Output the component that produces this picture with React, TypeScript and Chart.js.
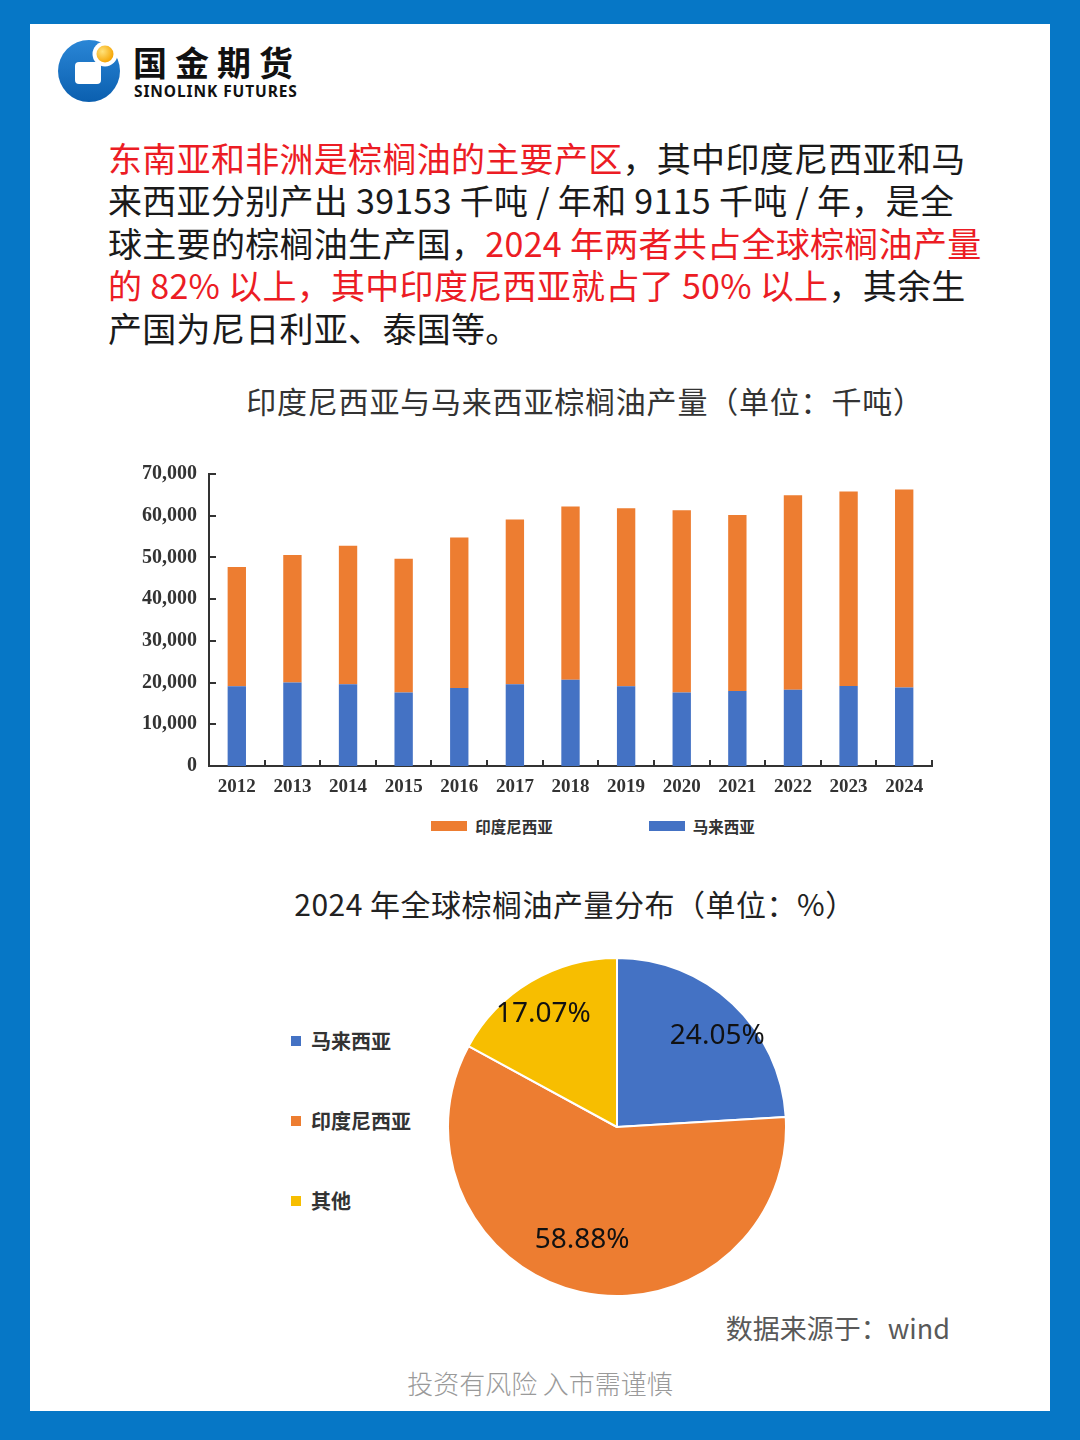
import React, { useEffect, useRef } from "react";
import { Chart, registerables } from "chart.js";

Chart.register(...registerables);

// ---------- data ----------
const years = ["2012", "2013", "2014", "2015", "2016", "2017", "2018", "2019", "2020", "2021", "2022", "2023", "2024"];
const malaysiaOutput = [19100, 20000, 19600, 17600, 18700, 19600, 20700, 19100, 17600, 18000, 18300, 19200, 18800];
const indonesiaOutput = [28600, 30600, 33200, 32100, 36100, 39500, 41500, 42700, 43700, 42200, 46600, 46600, 47500];
const yMin = 0;
const yMax = 70000;
const yStep = 10000;

const pieLabels = ["马来西亚", "印度尼西亚", "其他"];
const pieValues = [24.05, 58.88, 17.07];

const barTitle = "印度尼西亚与马来西亚棕榈油产量（单位：千吨）";
const pieTitle = "2024 年全球棕榈油产量分布（单位：%）";

// ---------- style ----------
const BLUE = "#4472C4";
const ORANGE = "#ED7D31";
const YELLOW = "#F7BE00";
const RED = "#EC1C24";
const FRAME = "#0677C6";
const CJK = "'Noto Sans CJK SC', 'Noto Sans', sans-serif";
const pieColors = [BLUE, ORANGE, YELLOW];
const pieLabelRadius = [0.8, 0.7, 0.8];
const pieLabelAngleShift = [0.08, 0.08, -0.04]; // radians, mimics Excel's best-fit placement

const inwardTicks = {
  id: "inwardTicks",
  afterDatasetsDraw(chart: any) {
    const { ctx, chartArea, scales } = chart;
    const x = scales.x;
    const y = scales.y;
    ctx.save();
    ctx.strokeStyle = "#333";
    ctx.lineWidth = 2;
    ctx.beginPath();
    y.ticks.forEach((_t: any, i: number) => {
      if (i === 0) return;
      const py = Math.round(y.getPixelForTick(i));
      ctx.moveTo(chartArea.left, py);
      ctx.lineTo(chartArea.left + 7, py);
    });
    for (let i = 1; i <= x.ticks.length; i++) {
      const px = Math.round(x.getPixelForValue(i - 0.5));
      ctx.moveTo(px, chartArea.bottom);
      ctx.lineTo(px, chartArea.bottom - 6);
    }
    ctx.stroke();
    ctx.restore();
  },
};

const pieValueLabels = {
  id: "pieValueLabels",
  afterDatasetsDraw(chart: any) {
    const { ctx } = chart;
    const meta = chart.getDatasetMeta(0);
    ctx.save();
    ctx.font = "28px 'Noto Sans', sans-serif";
    ctx.fillStyle = "#111";
    ctx.textAlign = "center";
    ctx.textBaseline = "middle";
    meta.data.forEach((arc: any, i: number) => {
      const p = arc.getProps(["x", "y", "startAngle", "endAngle", "outerRadius"], true);
      const mid = (p.startAngle + p.endAngle) / 2 + pieLabelAngleShift[i];
      const r = p.outerRadius * pieLabelRadius[i];
      ctx.fillText(pieValues[i].toFixed(2) + "%", p.x + Math.cos(mid) * r, p.y + Math.sin(mid) * r);
    });
    ctx.restore();
  },
};

function BarChart() {
  const ref = useRef<HTMLCanvasElement>(null);
  useEffect(() => {
    if (!ref.current) return;
    const xFont = { family: "'Liberation Serif', serif", size: 19, weight: "bold" as const };
    const yFont = { family: "'Liberation Serif', serif", size: 20, weight: "bold" as const };
    const chart = new Chart(ref.current, {
      type: "bar",
      data: {
        labels: years,
        datasets: [
          { label: "马来西亚", data: malaysiaOutput, backgroundColor: BLUE },
          { label: "印度尼西亚", data: indonesiaOutput, backgroundColor: ORANGE },
        ],
      },
      options: {
        responsive: false,
        animation: false,
        layout: { padding: { top: 34, right: 28, left: 0, bottom: 0 } },
        datasets: { bar: { categoryPercentage: 1, barPercentage: 0.33 } },
        plugins: { legend: { display: false }, tooltip: { enabled: false } },
        scales: {
          x: {
            stacked: true,
            offset: true,
            grid: { display: false, drawTicks: false },
            border: { display: true, color: "#333", width: 2 },
            ticks: { color: "#333", font: xFont, padding: 10, maxRotation: 0, autoSkip: false },
            afterFit: (s: any) => {
              s.height = 34;
            },
          },
          y: {
            stacked: true,
            min: yMin,
            max: yMax,
            grid: { display: false, drawTicks: false },
            border: { display: true, color: "#333", width: 2 },
            ticks: { stepSize: yStep, color: "#333", font: yFont, padding: 12 },
            afterFit: (s: any) => {
              s.width = 109;
            },
          },
        },
      },
      plugins: [inwardTicks],
    });
    return () => chart.destroy();
  }, []);
  return <canvas ref={ref} width={860} height={360} style={{ position: "absolute", left: 100, top: 440 }} />;
}

function PieChart() {
  const ref = useRef<HTMLCanvasElement>(null);
  useEffect(() => {
    if (!ref.current) return;
    const chart = new Chart(ref.current, {
      type: "pie",
      data: {
        labels: pieLabels,
        datasets: [{ data: pieValues, backgroundColor: pieColors, borderColor: "#fff", borderWidth: 2 }],
      },
      options: {
        responsive: false,
        animation: false,
        plugins: { legend: { display: false }, tooltip: { enabled: false } },
      },
      plugins: [pieValueLabels],
    });
    return () => chart.destroy();
  }, []);
  return <canvas ref={ref} width={340} height={340} style={{ position: "absolute", left: 447, top: 957 }} />;
}

const barLegend = [
  { label: "印度尼西亚", color: ORANGE },
  { label: "马来西亚", color: BLUE },
];

export default function App() {
  const abs = (o: any) => ({ position: "absolute" as const, whiteSpace: "pre" as const, ...o });
  const lineH = 42.5;
  const paraTop = 158 - lineH / 2;
  const red = (t: string) => <span style={{ color: RED }}>{t}</span>;
  return (
    <div style={{ position: "absolute", left: 0, top: 0, width: 1080, height: 1440, background: FRAME, overflow: "hidden", fontFamily: CJK }}>
      <div style={{ position: "absolute", left: 30, top: 24, width: 1020, height: 1387, background: "#fff" }} />

      {/* logo */}
      <svg width={130} height={110} style={{ position: "absolute", left: 0, top: 0 }}>
        <defs>
          <radialGradient id="ball" cx="0.35" cy="0.35" r="0.7">
            <stop offset="0" stopColor="#FFE27A" />
            <stop offset="1" stopColor="#F5A300" />
          </radialGradient>
          <linearGradient id="ring" x1="0" y1="0" x2="0" y2="1">
            <stop offset="0" stopColor="#2A86D6" />
            <stop offset="1" stopColor="#0B5FAF" />
          </linearGradient>
        </defs>
        <circle cx={89} cy={71} r={31} fill="url(#ring)" />
        <rect x={75} y={62} width={26} height={22} rx={4} fill="#fff" />
        <circle cx={105} cy={54} r={12.5} fill="#fff" />
        <circle cx={105} cy={54} r={8.5} fill="url(#ball)" />
      </svg>
      <div style={abs({ left: 133, top: 42, fontSize: 34, lineHeight: "40px", fontWeight: 700, letterSpacing: 8, color: "#111" })}>国金期货</div>
      <div style={abs({ left: 134, top: 81, fontSize: 15.5, lineHeight: "20px", fontWeight: 700, letterSpacing: 0.9, color: "#111", fontFamily: "'Noto Sans', sans-serif" })}>SINOLINK FUTURES</div>

      {/* paragraph */}
      <div style={abs({ left: 108, top: paraTop, fontSize: 34, lineHeight: lineH + "px", letterSpacing: 0.3, color: "#1a1a1a" })}>
        <div>{red("东南亚和非洲是棕榈油的主要产区")}，其中印度尼西亚和马</div>
        <div>来西亚分别产出 39153 千吨 / 年和 9115 千吨 / 年，是全</div>
        <div>球主要的棕榈油生产国，{red("2024 年两者共占全球棕榈油产量")}</div>
        <div>{red("的 82% 以上，其中印度尼西亚就占了 50% 以上")}，其余生</div>
        <div>产国为尼日利亚、泰国等。</div>
      </div>

      {/* bar chart */}
      <div style={abs({ left: 185, width: 800, top: 380, fontSize: 30, lineHeight: "40px", letterSpacing: 0.8, textAlign: "center", color: "#333" })}>{barTitle}</div>
      <BarChart />
      <div style={{ position: "absolute", left: 393, width: 400, top: 814, height: 24, display: "flex", justifyContent: "center", alignItems: "center", gap: 96 }}>
        {barLegend.map((it) => (
          <div key={it.label} style={{ display: "flex", alignItems: "center" }}>
            <div style={{ width: 36, height: 10, background: it.color, marginRight: 8 }} />
            <span style={{ fontSize: 15.5, fontWeight: 700, color: "#333", lineHeight: "24px", fontFamily: "'Noto Sans CJK SC', serif" }}>{it.label}</span>
          </div>
        ))}
      </div>

      {/* pie chart */}
      <div style={abs({ left: 175, width: 800, top: 883, fontSize: 30, lineHeight: "40px", letterSpacing: 0.5, textAlign: "center", color: "#222" })}>{pieTitle}</div>
      <PieChart />
      <div style={{ position: "absolute", left: 291, top: 1026, display: "flex", flexDirection: "column", gap: 50 }}>
        {pieLabels.map((l, i) => (
          <div key={l} style={{ display: "flex", alignItems: "center", height: 30 }}>
            <div style={{ width: 10, height: 10, background: pieColors[i], marginRight: 10 }} />
            <span style={{ fontSize: 20, fontWeight: 700, color: "#333", lineHeight: "30px" }}>{l}</span>
          </div>
        ))}
      </div>

      <div style={abs({ left: 550, width: 400, top: 1308, fontSize: 27, lineHeight: "40px", textAlign: "right", color: "#595959" })}>数据来源于：wind</div>
      <div style={abs({ left: 240, width: 600, top: 1365, fontSize: 26, lineHeight: "36px", textAlign: "center", color: "#9a9a9a", fontWeight: 300 })}>投资有风险 入市需谨慎</div>
    </div>
  );
}
